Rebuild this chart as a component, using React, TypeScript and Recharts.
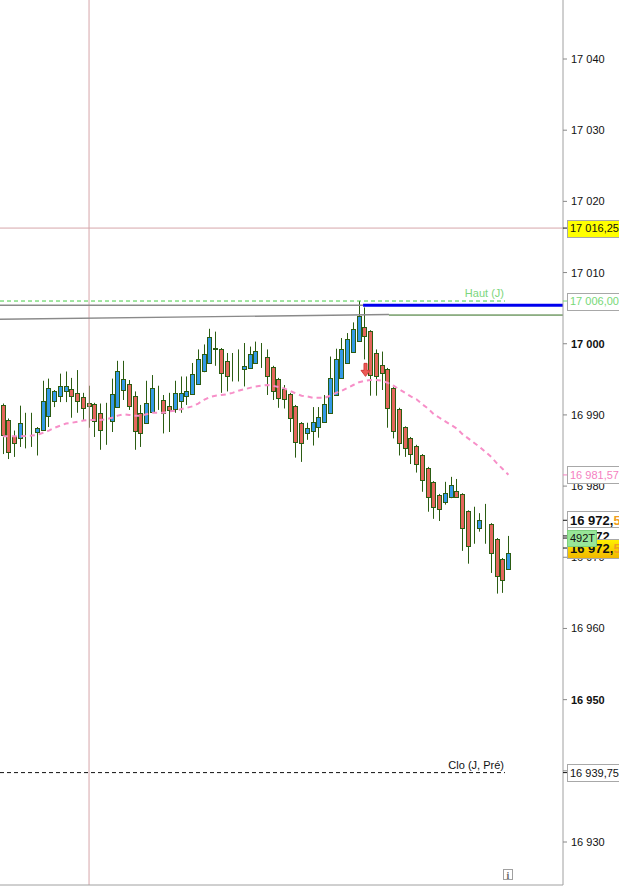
import React from 'react';
import { Bar, ComposedChart, Line, ReferenceDot, ReferenceLine, XAxis, YAxis } from 'recharts';

// candles, oldest first
const OPEN = [
  16991.4, 16989.3, 16987.1, 16986.7, 16987.6, 16987.8, 16987.6, 16987.9, 16989.9, 16991.9,
  16992.7, 16993.4, 16993.7, 16993.1, 16992.5, 16991.7, 16991.6, 16990.3, 16989.3, 16989.2,
  16991.1, 16993.5, 16994.4, 16992.7, 16990.2, 16988.9, 16990.4, 16992.1, 16992.1, 16991.2,
  16990.9, 16992.0, 16992.6, 16993.0, 16994.4, 16996.1, 16997.3, 16999.2, 16999.3, 16997.6,
  16996.3, 16996.3, 16996.5, 16996.6, 16997.3, 16998.2, 16998.2, 16996.8, 16995.1, 16993.7,
  16993.0, 16991.3, 16988.9, 16987.4, 16987.8, 16988.3, 16989.0, 16990.3, 16992.8, 16995.2,
  16997.3, 16998.9, 17000.4, 17002.4, 17001.8, 16998.7, 16997.0, 16996.5, 16993.8, 16990.9,
  16988.3, 16986.8, 16985.7, 16984.4, 16982.6, 16980.6, 16978.8, 16977.8, 16978.4, 16979.3,
  16978.9, 16976.5, 16974.0, 16974.1, 16974.7, 16974.7, 16972.6, 16969.8, 16968.4,
];
const HIGH = [
  16991.6, 16989.5, 16987.8, 16991.3, 16990.3, 16990.3, 16988.3, 16994.8, 16995.1, 16993.5,
  16995.8, 16996.1, 16995.2, 16996.3, 16993.1, 16994.1, 16991.7, 16991.6, 16991.7, 16995.1,
  16997.6, 16997.6, 16994.9, 16993.3, 16991.4, 16994.8, 16995.6, 16994.1, 16992.8, 16993.1,
  16994.8, 16995.4, 16995.4, 16997.3, 16999.2, 16999.9, 17002.1, 17001.7, 16999.4, 16998.7,
  16998.7, 16999.2, 17000.1, 16999.6, 17000.3, 17000.1, 16999.2, 16996.9, 16995.2, 16994.2,
  16993.1, 16991.4, 16989.0, 16988.9, 16991.1, 16991.1, 16992.8, 16998.2, 16999.3, 17000.8,
  17001.5, 17003.0, 17006.0, 17005.1, 17001.9, 16999.2, 16998.9, 16996.6, 16993.9, 16991.0,
  16988.4, 16986.9, 16985.8, 16984.5, 16982.7, 16980.7, 16978.9, 16980.6, 16981.3, 16981.0,
  16979.0, 16976.6, 16977.1, 16976.2, 16977.5, 16974.8, 16972.7, 16969.9, 16973.0,
];
const LOW = [
  16984.5, 16983.8, 16984.1, 16985.5, 16985.3, 16985.5, 16984.3, 16987.8, 16988.3, 16991.1,
  16991.8, 16991.8, 16989.6, 16990.3, 16989.3, 16988.2, 16986.9, 16985.1, 16985.8, 16987.6,
  16991.0, 16992.1, 16990.7, 16985.1, 16985.5, 16988.8, 16990.3, 16990.7, 16987.4, 16987.6,
  16990.3, 16990.3, 16991.4, 16992.9, 16994.3, 16996.0, 16997.2, 16996.9, 16993.1, 16993.3,
  16994.7, 16994.7, 16994.0, 16996.5, 16997.2, 16996.6, 16992.8, 16992.1, 16991.0, 16990.9,
  16987.6, 16984.0, 16983.4, 16986.5, 16985.7, 16986.8, 16988.9, 16990.2, 16992.7, 16995.1,
  16997.2, 16998.8, 17000.3, 16997.8, 16992.7, 16992.7, 16993.5, 16988.2, 16986.7, 16984.3,
  16984.1, 16983.1, 16981.9, 16979.2, 16976.4, 16975.4, 16975.1, 16977.4, 16978.3, 16978.4,
  16970.9, 16969.1, 16971.9, 16973.6, 16971.9, 16967.8, 16964.9, 16965.0, 16968.3,
];
const CLOSE = [
  16987.2, 16984.8, 16986.1, 16988.8, 16987.6, 16987.8, 16988.2, 16991.9, 16993.8, 16993.4,
  16994.1, 16994.1, 16992.6, 16991.9, 16991.0, 16991.3, 16989.2, 16987.9, 16989.3, 16993.0,
  16996.1, 16995.1, 16991.3, 16987.8, 16987.5, 16991.7, 16993.8, 16992.1, 16990.2, 16990.7,
  16993.1, 16993.1, 16993.3, 16995.8, 16997.9, 16998.6, 17001.0, 16999.4, 16995.9, 16995.4,
  16996.3, 16996.3, 16996.9, 16998.5, 16999.0, 16998.2, 16995.4, 16993.3, 16992.4, 16992.3,
  16989.6, 16986.2, 16986.0, 16988.1, 16989.0, 16989.7, 16991.6, 16995.2, 16997.9, 16999.3,
  17000.7, 17002.1, 17003.9, 17001.1, 16995.6, 16995.4, 16995.9, 16991.0, 16987.8, 16986.0,
  16985.3, 16984.5, 16983.1, 16980.9, 16978.5, 16977.1, 16976.8, 16979.1, 16980.2, 16978.5,
  16974.1, 16971.6, 16974.0, 16975.3, 16974.7, 16970.6, 16967.3, 16966.8, 16970.6,
];
// dashed pink moving average
const MA = [
  16987.0, 16987.0, 16987.0, 16987.0, 16987.05, 16987.1, 16987.2, 16987.5, 16987.8, 16988.2,
  16988.5, 16988.8, 16988.9, 16989.05, 16989.2, 16989.3, 16989.3, 16989.3, 16989.4, 16989.6,
  16989.9, 16990.1, 16990.0, 16989.9, 16989.9, 16990.1, 16990.3, 16990.3, 16990.3, 16990.5,
  16990.6, 16990.8, 16991.0, 16991.2, 16991.6, 16992.1, 16992.5, 16992.7, 16992.8, 16992.9,
  16993.1, 16993.4, 16993.6, 16993.8, 16994.0, 16994.1, 16994.2, 16994.1, 16993.9, 16993.7,
  16993.4, 16993.0, 16992.7, 16992.6, 16992.4, 16992.4, 16992.4, 16992.7, 16993.1, 16993.4,
  16993.8, 16994.2, 16994.6, 16994.8, 16994.9, 16994.9, 16994.8, 16994.5, 16994.1, 16993.6,
  16993.1, 16992.6, 16992.2, 16991.5, 16990.9, 16990.1, 16989.6, 16989.1, 16988.6, 16988.1,
  16987.3, 16986.7, 16986.1, 16985.5, 16984.8, 16984.1, 16983.2, 16982.4, 16981.6,
];
const FUTURE_SLOTS = 9;
const Y_TICKS = [16930, 16940, 16950, 16960, 16970, 16980, 16990, 17000, 17010, 17020, 17030, 17040];
const Y_DOMAIN = [16923.96, 17048.29];

const DAY_HIGH = 17006.0;
const PREV_CLOSE = 16939.75;
const CROSS_PRICE = 17016.25;
const CROSS_INDEX = 15;
const MA_LAST = 16981.57;
const RES_LEVEL = 17005.4;
const TREND_START = 17003.44;
const TREND_END = 17004.1;
const SELL_SIGNAL = { index: 63, price: 16996.4 };
const LAST_TAGS = { bid: 16975.2, ask: 16971.3, hidden: 16973.0, volume: 16972.7 };

const RED = '#e4665c';
const BLUE = '#3399e6';
const OUTLINE = '#2b5c12';
const CROSS = '#d6a6aa';
const FONT = '"Liberation Sans", Arial, sans-serif';
const W = 619;
const H = 887;

const rows = [
  ...OPEN.map((o, i) => ({
    i,
    range: [LOW[i], HIGH[i]],
    o,
    h: HIGH[i],
    l: LOW[i],
    c: CLOSE[i],
    ma: MA[i],
  })),
  ...Array.from({ length: FUTURE_SLOTS }, (_, k) => ({ i: OPEN.length + k, range: null, ma: null })),
];
const LAST_SLOT = rows.length - 0.5;

function fmt(v: number, dec = 0) {
  const [int, frac] = v.toFixed(dec).split('.');
  const s = int.slice(0, -3) + ' ' + int.slice(-3);
  return frac ? `${s},${frac}` : s;
}

function Candle(props: any) {
  const { x, y, width, height, payload } = props;
  if (!payload || payload.o == null) return null;
  const { o, h, l, c } = payload;
  const top = Math.min(y, y + height);
  const span = Math.abs(height);
  const k = span / (h - l);
  const py = (v: number) => top + (h - v) * k;
  const cx = Math.floor(x + width / 2) + 0.5;
  const bTop = Math.round(py(Math.max(o, c))) + 0.5;
  const bBot = Math.round(py(Math.min(o, c))) + 0.5;
  const fill = c > o ? BLUE : c < o ? RED : OUTLINE;
  return (
    <g>
      <line x1={cx} x2={cx} y1={top} y2={top + span} stroke={OUTLINE} strokeWidth={1} />
      <rect x={cx - 2} y={bTop} width={4} height={Math.max(bBot - bTop, 0)} fill={fill} stroke={OUTLINE} strokeWidth={1} />
    </g>
  );
}

function PriceTick(props: any) {
  const { x, y, payload } = props;
  const bold = payload.value % 50 === 0;
  return (
    <text x={x} y={y} dy="0.36em" fontSize={11} fontFamily={FONT} fontWeight={bold ? 700 : 400} fill="#111">
      {fmt(payload.value)}
    </text>
  );
}

function AxisTag({ viewBox, text, color = '#111', bg = '#fff', border = '#a8a8a8', bold = false, w = 53, h = 17, size = 11, tail, gradient }: any) {
  if (!viewBox) return null;
  const ax = viewBox.x + viewBox.width;
  const yc = viewBox.y;
  const x0 = ax + 4;
  return (
    <g>
      <line x1={ax} x2={ax + 4} y1={yc} y2={yc} stroke={color} strokeWidth={1} />
      <rect x={x0 + 0.5} y={Math.round(yc - h / 2) + 0.5} width={w} height={h} fill={gradient ? 'url(#lastGrad)' : bg} stroke={border} />
      <text x={x0 + 3} y={yc} dy="0.36em" fontSize={size} fontFamily={FONT} fontWeight={bold ? 700 : 400} fill={color}>
        {text}
        {tail && <tspan fill="#f0a020">{tail}</tspan>}
      </text>
    </g>
  );
}

function EndText({ viewBox, text, color }: any) {
  if (!viewBox) return null;
  return (
    <text x={viewBox.x + viewBox.width - 1} y={viewBox.y - 4} textAnchor="end" fontSize={11} fontFamily={FONT} fill={color}>
      {text}
    </text>
  );
}

function DownArrow(props: any) {
  const { cx, cy } = props;
  const x = Math.round(cx) + 0.5;
  const t = cy - 6;
  return (
    <path
      d={`M${x - 1.5},${t} L${x + 1.5},${t} L${x + 1.5},${t + 7} L${x + 4.5},${t + 7} L${x},${t + 13} L${x - 4.5},${t + 7} L${x - 1.5},${t + 7} Z`}
      fill="#ec5a55"
      stroke="#d23c3c"
      strokeWidth={1}
    />
  );
}

// price tags sit in a second chart on top so they cover the axis labels
function TagLayer() {
  return (
    <ComposedChart width={W} height={H} data={rows} margin={{ top: 0, right: 0, bottom: 0, left: 0 }}>
      <defs>
        <linearGradient id="lastGrad" x1="0" y1="0" x2="0" y2="1">
          <stop offset="0%" stopColor="#fff200" />
          <stop offset="100%" stopColor="#f2b600" />
        </linearGradient>
      </defs>
      <XAxis dataKey="i" type="category" height={2} tick={false} tickLine={false} axisLine={false} />
      <YAxis
        orientation="right"
        width={56}
        domain={Y_DOMAIN}
        allowDataOverflow
        tick={false}
        tickLine={false}
        axisLine={false}
      />
      <Line dataKey="ma" stroke="none" dot={false} activeDot={false} isAnimationActive={false} />
      <ReferenceLine
        y={CROSS_PRICE}
        stroke="none"
        label={(p: any) => <AxisTag viewBox={p.viewBox} text={fmt(CROSS_PRICE, 2)} bg="#ffff00" />}
      />
      <ReferenceLine
        y={DAY_HIGH}
        stroke="none"
        label={(p: any) => <AxisTag viewBox={p.viewBox} text={fmt(DAY_HIGH, 2)} color="#77d877" />}
      />
      <ReferenceLine
        y={MA_LAST}
        stroke="none"
        label={(p: any) => <AxisTag viewBox={p.viewBox} text={fmt(MA_LAST, 2)} color="#f57fbf" />}
      />
      <ReferenceLine
        y={PREV_CLOSE}
        stroke="none"
        label={(p: any) => <AxisTag viewBox={p.viewBox} text={fmt(PREV_CLOSE, 2)} />}
      />
      <ReferenceLine
        y={LAST_TAGS.bid}
        stroke="none"
        label={(p: any) => <AxisTag viewBox={p.viewBox} text="16 972," tail="5" bold size={13} h={19} />}
      />
      <ReferenceLine
        y={LAST_TAGS.hidden}
        stroke="none"
        label={(p: any) => <AxisTag viewBox={p.viewBox} text="16 972," bold size={13} h={17} />}
      />
      <ReferenceLine
        y={LAST_TAGS.ask}
        stroke="none"
        label={(p: any) => <AxisTag viewBox={p.viewBox} text="16 972," tail="5" bold size={13} h={19} gradient />}
      />
      <ReferenceLine
        y={LAST_TAGS.volume}
        stroke="none"
        label={(p: any) => (
          <AxisTag viewBox={p.viewBox} text="492T" w={29} h={16} size={11} bg="#98e698" border="#7ccf7c" />
        )}
      />
    </ComposedChart>
  );
}

export default function App() {
  return (
    <div style={{ position: 'absolute', left: 0, top: 0, width: W, height: H, background: '#fff' }}>
      <ComposedChart width={W} height={H} data={rows} margin={{ top: 0, right: 0, bottom: 0, left: 0 }}>
        <XAxis
          dataKey="i"
          type="category"
          height={2}
          tick={false}
          tickLine={false}
          axisLine={{ stroke: '#a0a0a0' }}
        />
        <XAxis xAxisId="n" dataKey="i" type="number" domain={[-0.5, LAST_SLOT]} allowDataOverflow hide />
        <YAxis
          orientation="right"
          width={56}
          domain={Y_DOMAIN}
          allowDataOverflow
          ticks={Y_TICKS}
          interval={0}
          tick={<PriceTick />}
          tickSize={4}
          tickMargin={4}
          tickLine={{ stroke: '#888' }}
          axisLine={{ stroke: '#a0a0a0' }}
        />

        <ReferenceLine x={CROSS_INDEX} stroke={CROSS} strokeWidth={1} />
        <ReferenceLine y={CROSS_PRICE} stroke={CROSS} strokeWidth={1} />
        <ReferenceLine
          xAxisId="n"
          segment={[{ x: -0.5, y: TREND_START }, { x: 67.2, y: TREND_END }]}
          stroke="#8a8a8a"
          strokeWidth={1.4}
        />
        <ReferenceLine
          xAxisId="n"
          segment={[{ x: 67.2, y: TREND_END - 0.07 }, { x: LAST_SLOT, y: TREND_END - 0.07 }]}
          stroke="#2f6b1c"
          strokeWidth={1}
        />
        <ReferenceLine
          xAxisId="n"
          segment={[{ x: -0.5, y: RES_LEVEL }, { x: 62.7, y: RES_LEVEL }]}
          stroke="#8a8a8a"
          strokeWidth={1.4}
        />
        <ReferenceLine
          xAxisId="n"
          segment={[{ x: 62.7, y: RES_LEVEL }, { x: LAST_SLOT, y: RES_LEVEL }]}
          stroke="#0000ee"
          strokeWidth={3}
        />
        <ReferenceLine
          xAxisId="n"
          segment={[{ x: -0.5, y: DAY_HIGH }, { x: 87.4, y: DAY_HIGH }]}
          stroke="#44cc44"
          strokeDasharray="4 3"
          strokeWidth={1}
          label={(p: any) => <EndText viewBox={p.viewBox} text="Haut (J)" color="#7cd67c" />}
        />
        <ReferenceLine
          xAxisId="n"
          segment={[{ x: -0.5, y: PREV_CLOSE }, { x: 87.4, y: PREV_CLOSE }]}
          stroke="#111"
          strokeDasharray="4 3"
          strokeWidth={1}
          label={(p: any) => <EndText viewBox={p.viewBox} text="Clo (J, Pré)" color="#111" />}
        />

        <Bar dataKey="range" barSize={4} shape={<Candle />} isAnimationActive={false} />
        <Line
          dataKey="ma"
          stroke="#f78fc8"
          strokeWidth={2}
          strokeDasharray="5 4"
          dot={false}
          activeDot={false}
          isAnimationActive={false}
        />
        <ReferenceDot x={SELL_SIGNAL.index} y={SELL_SIGNAL.price} r={5} shape={<DownArrow />} />
      </ComposedChart>
      <div style={{ position: 'absolute', left: 0, top: 0, pointerEvents: 'none' }}>
        <TagLayer />
      </div>
      <div
        style={{
          position: 'absolute',
          left: 503,
          top: 869,
          width: 10,
          height: 11,
          border: '1px solid #a0a0a0',
          fontFamily: 'serif',
          fontSize: 10,
          fontWeight: 700,
          lineHeight: '11px',
          textAlign: 'center',
          color: '#666',
          boxSizing: 'border-box',
        }}
      >
        i
      </div>
    </div>
  );
}
